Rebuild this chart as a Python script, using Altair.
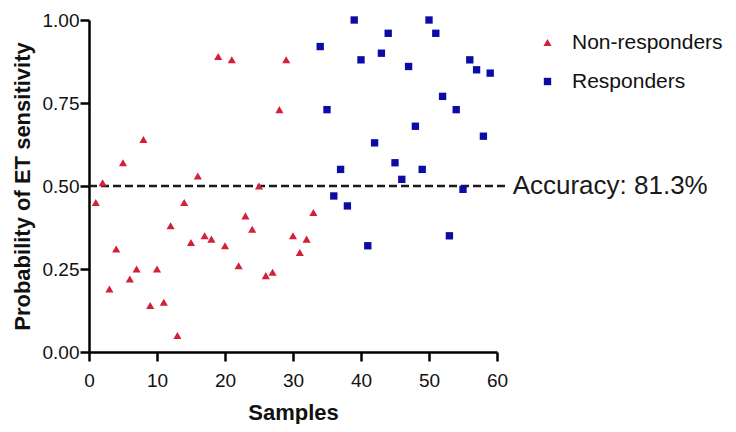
import altair as alt
import pandas as pd

# ---- data ----
groups = ["Non-responders", "Responders"]

nonresp_x = list(range(1, 34))
nonresp_y = [0.45, 0.51, 0.19, 0.31, 0.57, 0.22, 0.25, 0.64, 0.14, 0.25,
             0.15, 0.38, 0.05, 0.45, 0.33, 0.53, 0.35, 0.34, 0.89, 0.32,
             0.88, 0.26, 0.41, 0.37, 0.50, 0.23, 0.24, 0.73, 0.88, 0.35,
             0.30, 0.34, 0.42]

resp_x = list(range(34, 60))
resp_y = [0.92, 0.73, 0.47, 0.55, 0.44, 1.00, 0.88, 0.32, 0.63, 0.90,
          0.96, 0.57, 0.52, 0.86, 0.68, 0.55, 1.00, 0.96, 0.77, 0.35,
          0.73, 0.49, 0.88, 0.85, 0.65, 0.84]

x_ticks = [0, 10, 20, 30, 40, 50, 60]
y_ticks = [0.0, 0.25, 0.5, 0.75, 1.0]

threshold = [0.5]
accuracy_label = ["Accuracy: 81.3%"]

# ---- tables ----
df = pd.DataFrame({
    "Sample": nonresp_x + resp_x,
    "Probability": nonresp_y + resp_y,
    "Group": [groups[0]] * len(nonresp_x) + [groups[1]] * len(resp_x),
})

thr = pd.DataFrame({"y": threshold, "x0": [0], "x1": [61.5],
                    "xt": [62.3], "label": accuracy_label})

FONT = "Liberation Sans"
RED = "#d41f38"
BLUE = "#0b0ba6"

xscale = alt.Scale(domain=[0, 60], nice=False, zero=False)
yscale = alt.Scale(domain=[0, 1], nice=False)

legend = alt.Legend(title=None, orient="none", legendX=448, legendY=12,
                    labelLimit=0)

points = alt.Chart(df).mark_point(filled=True, opacity=1, clip=False, strokeWidth=0).encode(
    x=alt.X("Sample:Q", scale=xscale,
            axis=alt.Axis(values=x_ticks, format="d", title="Samples",
                          labelPadding=10, titlePadding=12, labelFlush=False)),
    y=alt.Y("Probability:Q", scale=yscale,
            axis=alt.Axis(values=y_ticks, format=".2f",
                          title="Probability of ET sensitivity",
                          labelPadding=1, titlePadding=8, labelFlush=False)),
    color=alt.Color("Group:N",
                    scale=alt.Scale(domain=groups, range=[RED, BLUE]),
                    legend=legend),
    shape=alt.Shape("Group:N",
                    scale=alt.Scale(domain=groups, range=["triangle-up", "square"]),
                    legend=legend),
    size=alt.Size("Group:N",
                  scale=alt.Scale(domain=groups, range=[66, 54]),
                  legend=None),
)

rule = alt.Chart(thr).mark_rule(strokeDash=[8, 4], strokeWidth=2.5,
                                color="#1a1a1a", clip=False).encode(
    x=alt.X("x0:Q", scale=xscale),
    x2="x1:Q",
    y=alt.Y("y:Q", scale=yscale),
)

label = alt.Chart(thr).mark_text(align="left", baseline="middle", font=FONT,
                                 fontSize=26, color="#1a1a1a", clip=False).encode(
    x=alt.X("xt:Q", scale=xscale),
    y=alt.Y("y:Q", scale=yscale),
    text="label:N",
)

chart = alt.layer(rule, points, label).properties(
    width=408, height=332,
    autosize=alt.AutoSizeParams(type="none"),
    padding={"left": 81, "top": 12, "right": 231, "bottom": 72},
).configure_view(stroke=None).configure_axis(
    grid=False,
    domainColor="black", domainWidth=2.5,
    tickColor="black", tickWidth=2.5, tickSize=9,
    labelFont=FONT, labelFontSize=19, labelColor="#111",
    titleFont=FONT, titleFontSize=22, titleFontWeight="bold", titleColor="#111",
).configure_legend(
    labelFont=FONT, labelFontSize=21, labelColor="#111",
    symbolSize=40, rowPadding=17, labelOffset=14,
)

chart.save("out.html", embed_options={"renderer": "svg", "actions": False})
